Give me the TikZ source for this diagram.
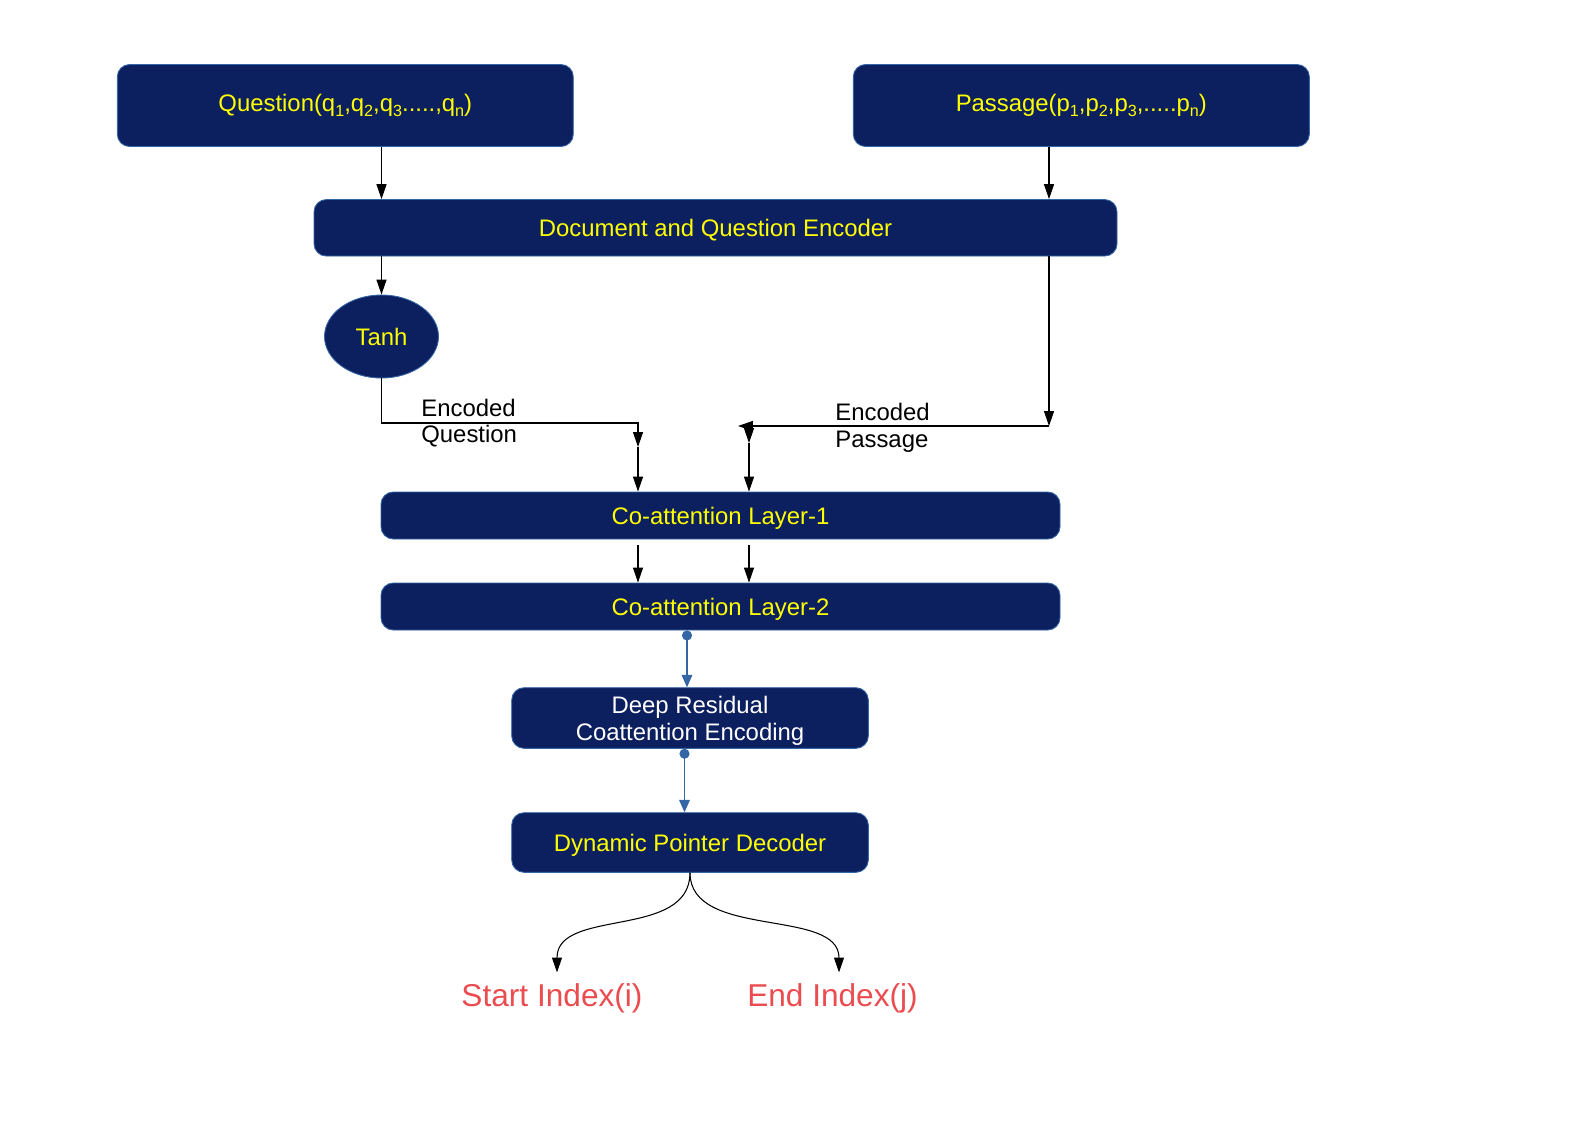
\documentclass[tikz,border=0pt]{standalone}
\usepackage{fontspec}
\setmainfont{Liberation Sans}
\usepackage{xcolor}
\definecolor{BoxNavy}{RGB}{12,31,94}
\definecolor{BoxEdge}{RGB}{52,101,164}
\definecolor{TextYellow}{RGB}{255,255,0}
\definecolor{IndexRed}{RGB}{234,76,80}
\definecolor{LinkBlue}{RGB}{52,101,164}
\usetikzlibrary{arrows.meta,shapes.geometric}
\newcommand{\px}{0.02cm}
\newcommand{\sbs}[1]{\raisebox{-3.2pt}{\fontsize{9.2}{9.2}\selectfont #1}}

\begin{document}
\begin{tikzpicture}[x=\px,y=-\px,font=\fontsize{13.6}{15.2}\selectfont,
  blk/.style={draw=BoxEdge,line width=0.5pt,fill=BoxNavy,rounded corners=7pt,
    text=TextYellow,inner sep=0pt,align=center,text depth=0pt},
  arr/.style={-{Triangle[length=8.5pt,width=5.7pt]},line width=0.6pt},
  link/.style={{Circle[length=5.7pt]}-{Triangle[length=7pt,width=6pt]},draw=LinkBlue,line width=0.8pt},
  idx/.style={text=IndexRed,font=\fontsize{18}{21.6}\selectfont,inner xsep=4pt,inner ysep=5.9pt,text depth=0pt}]
\useasboundingbox (0,0) rectangle (1588,1123);

\node[blk,text depth=3.4pt,minimum width=456*\px,minimum height=82*\px] (question) at (345.3,105.5)
  {Question(q\sbs{1},q\sbs{2},q\sbs{3}.....,q\sbs{n})};
\node[blk,text depth=3.4pt,minimum width=456*\px,minimum height=82*\px] (passage) at (1081.3,105.5)
  {Passage(p\sbs{1},p\sbs{2},p\sbs{3},.....p\sbs{n})};
\node[blk,minimum width=803*\px,minimum height=56.5*\px] (encoder) at (715.5,227.8)
  {Document and Question Encoder};
\node[blk,ellipse,sharp corners,minimum width=114*\px,minimum height=83*\px] (tanh) at (381.5,336.5) {Tanh};
\node[blk,minimum width=679*\px,minimum height=47*\px] (co1) at (720.5,515.5) {Co-attention Layer-1};
\node[blk,minimum width=679*\px,minimum height=47*\px] (co2) at (720.5,606.5) {Co-attention Layer-2};
\node[blk,text=white,minimum width=356.6*\px,minimum height=60.6*\px] (deep) at (690,718)
  {Deep Residual\\Coattention Encoding};
\node[blk,minimum width=356.6*\px,minimum height=59.6*\px] (dpd) at (690,842.5) {Dynamic Pointer Decoder};
\node[idx] (start) at (552,994.6) {Start Index(i)};
\node[idx] (end) at (832.5,994.6) {End Index(j)};

\node[anchor=west,inner sep=0pt,align=left] (encq) at (421,423) {Encoded\\Question};
\node[anchor=west,inner sep=0pt,align=left] (encp) at (835,427.5) {Encoded\\Passage};

\coordinate (pcol) at (1049,0);
\coordinate (qturn) at (638,423);
\coordinate (qhead) at (638,447);
\coordinate (pturn) at (1049,426);
\coordinate (pleft) at (738,426);
\coordinate (pdrop) at (749,426);
\coordinate (phead) at (749,443);
\coordinate (lcol) at (687,0);
\coordinate (lcolb) at (684.5,0);

\draw[arr] (question.south -| tanh) -- (encoder.north -| tanh);
\draw[arr] (passage.south -| pcol) -- (encoder.north -| pcol);
\draw[arr] (encoder.south -| tanh) -- (tanh.north);
\draw[arr] (tanh.south) |- (qturn) -- (qhead);
\draw[arr] (qhead) -- (qhead |- co1.north);
\draw[arr] (encoder.south -| pturn) -- (pturn);
\draw[arr] (pturn) -- (pleft);
\draw[arr] (pdrop) -- (phead);
\draw[arr] (phead) -- (phead |- co1.north);
\draw[arr,shorten <=0.12cm] (co1.south -| qhead) -- (co2.north -| qhead);
\draw[arr,shorten <=0.12cm] (co1.south -| phead) -- (co2.north -| phead);
\draw[link] (co2.south -| lcol) -- (deep.north -| lcol);
\draw[link] (deep.south -| lcolb) -- (dpd.north -| lcolb);
\draw[arr] (dpd.south) .. controls +(0,67) and +(0,-65) .. ([xshift=0.1cm]start.north);
\draw[arr] (dpd.south) .. controls +(0,67) and +(0,-65) .. ([xshift=0.13cm]end.north);
\end{tikzpicture}
\end{document}
